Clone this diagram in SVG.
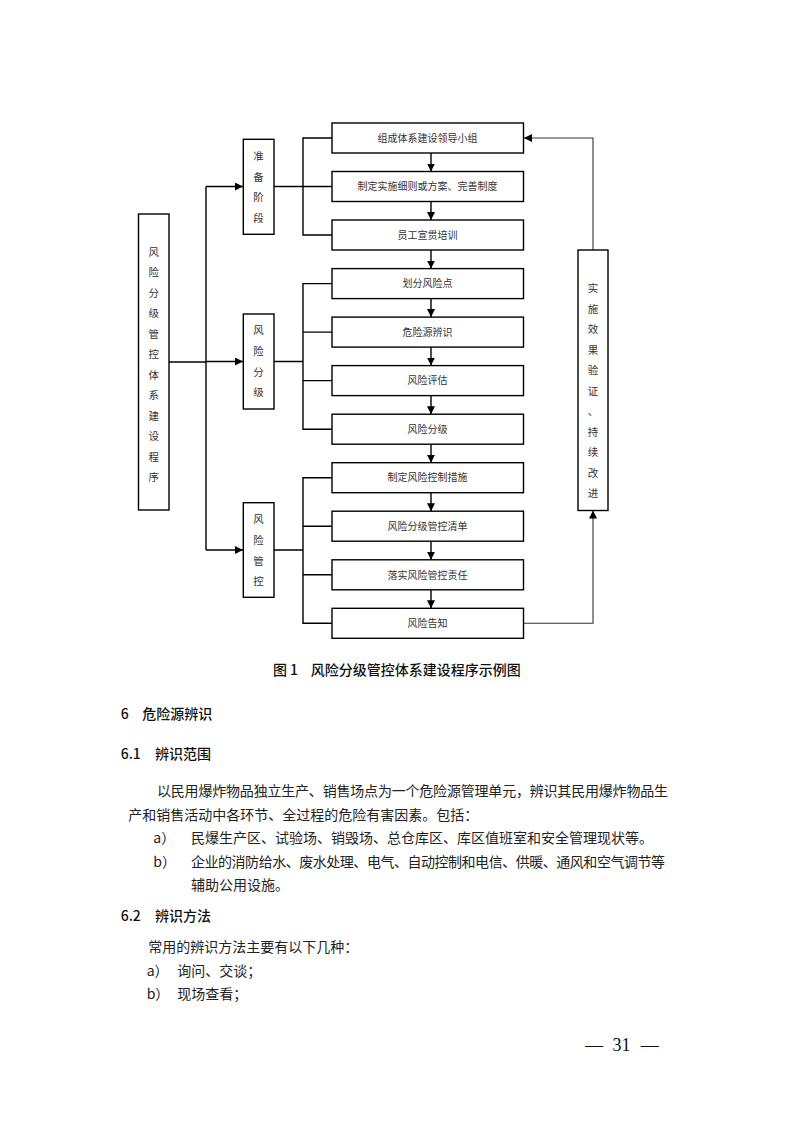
<svg xmlns="http://www.w3.org/2000/svg" width="793" height="1122" viewBox="0 0 793 1122">
<defs>
<style>
.box{fill:#fff;stroke:#000;stroke-width:1.4}
.ln{fill:none;stroke:#000;stroke-width:1.4}
.lp{fill:none;stroke:#333;stroke-width:1.1}
.bt{font-family:"Noto Sans CJK SC","Noto Sans CJK JP",sans-serif;font-size:10px;fill:#333;text-anchor:middle}
.vt{font-family:"Noto Sans CJK SC","Noto Sans CJK JP",sans-serif;font-size:10.5px;fill:#333;text-anchor:middle}
.hd{font-family:"Noto Sans CJK SC","Noto Sans CJK JP",sans-serif;font-size:14px;font-weight:500;fill:#111}
.tx{font-family:"Noto Sans CJK SC","Noto Sans CJK JP",sans-serif;font-size:14px;fill:#222}
.pg{font-family:"Liberation Serif",serif;font-size:18px;fill:#111}
</style>
<marker id="ah" markerUnits="userSpaceOnUse" markerWidth="8" markerHeight="8" refX="8" refY="4" orient="auto">
<path d="M0,0 L8,4 L0,8 z" fill="#000"/>
</marker>
</defs>

<g id="connectors">
<path class="ln" d="M169,362 H206"/>
<path class="ln" d="M206,186.5 V550"/>
<path class="ln" d="M206,186.5 H243" marker-end="url(#ah)"/>
<path class="ln" d="M206,361.5 H243" marker-end="url(#ah)"/>
<path class="ln" d="M206,550 H243" marker-end="url(#ah)"/>
<path class="ln" d="M274,186.5 H303 M332,138 H303 V235 H332 M303,186.5 H332"/>
<path class="ln" d="M274,361.5 H303 M332,283.6 H303 V429.2 H332 M303,332.1 H332 M303,380.6 H332"/>
<path class="ln" d="M274,550 H303 M332,477.7 H303 V623.3 H332 M303,526.2 H332 M303,574.8 H332"/>
<path class="ln" d="M431,153 V171.5" marker-end="url(#ah)"/>
<path class="ln" d="M431,201.5 V220" marker-end="url(#ah)"/>
<path class="ln" d="M431,250 V268.6" marker-end="url(#ah)"/>
<path class="ln" d="M431,298.6 V317.1" marker-end="url(#ah)"/>
<path class="ln" d="M431,347.1 V365.6" marker-end="url(#ah)"/>
<path class="ln" d="M431,395.6 V414.2" marker-end="url(#ah)"/>
<path class="ln" d="M431,444.2 V462.7" marker-end="url(#ah)"/>
<path class="ln" d="M431,492.7 V511.2" marker-end="url(#ah)"/>
<path class="ln" d="M431,541.2 V559.8" marker-end="url(#ah)"/>
<path class="ln" d="M431,589.8 V608.3" marker-end="url(#ah)"/>
<path class="lp" d="M524,623.3 H593 V510.5" marker-end="url(#ah)"/>
<path class="lp" d="M593,250 V138 H524" marker-end="url(#ah)"/>
</g>

<g id="node-main">
<rect class="box" x="138.5" y="214" width="30.5" height="296"/>
<text class="vt"><tspan x="153.7" y="255.5">风</tspan><tspan x="153.7" dy="20.5">险</tspan><tspan x="153.7" dy="20.5">分</tspan><tspan x="153.7" dy="20.5">级</tspan><tspan x="153.7" dy="20.5">管</tspan><tspan x="153.7" dy="20.5">控</tspan><tspan x="153.7" dy="20.5">体</tspan><tspan x="153.7" dy="20.5">系</tspan><tspan x="153.7" dy="20.5">建</tspan><tspan x="153.7" dy="20.5">设</tspan><tspan x="153.7" dy="20.5">程</tspan><tspan x="153.7" dy="20.5">序</tspan></text>
</g>

<g id="node-stage1">
<rect class="box" x="243.3" y="139.3" width="30.7" height="95"/>
<text class="vt"><tspan x="258.6" y="160">准</tspan><tspan x="258.6" dy="20.7">备</tspan><tspan x="258.6" dy="20.7">阶</tspan><tspan x="258.6" dy="20.7">段</tspan></text>
</g>
<g id="node-stage2">
<rect class="box" x="243.3" y="314" width="30.7" height="95"/>
<text class="vt"><tspan x="258.6" y="334">风</tspan><tspan x="258.6" dy="20.8">险</tspan><tspan x="258.6" dy="20.8">分</tspan><tspan x="258.6" dy="20.8">级</tspan></text>
</g>
<g id="node-stage3">
<rect class="box" x="243.3" y="502.7" width="30.7" height="94.6"/>
<text class="vt"><tspan x="258.6" y="523">风</tspan><tspan x="258.6" dy="20.8">险</tspan><tspan x="258.6" dy="20.8">管</tspan><tspan x="258.6" dy="20.8">控</tspan></text>
</g>

<g id="node-s1"><rect class="box" x="332" y="123" width="191.5" height="30"/><text class="bt" x="427.5" y="141.7">组成体系建设领导小组</text></g>
<g id="node-s2"><rect class="box" x="332" y="171.5" width="191.5" height="30"/><text class="bt" x="427.5" y="190.2">制定实施细则或方案、完善制度</text></g>
<g id="node-s3"><rect class="box" x="332" y="220" width="191.5" height="30"/><text class="bt" x="427.5" y="238.7">员工宣贯培训</text></g>
<g id="node-s4"><rect class="box" x="332" y="268.6" width="191.5" height="30"/><text class="bt" x="427.5" y="287.3">划分风险点</text></g>
<g id="node-s5"><rect class="box" x="332" y="317.1" width="191.5" height="30"/><text class="bt" x="427.5" y="335.8">危险源辨识</text></g>
<g id="node-s6"><rect class="box" x="332" y="365.6" width="191.5" height="30"/><text class="bt" x="427.5" y="384.3">风险评估</text></g>
<g id="node-s7"><rect class="box" x="332" y="414.2" width="191.5" height="30"/><text class="bt" x="427.5" y="432.9">风险分级</text></g>
<g id="node-s8"><rect class="box" x="332" y="462.7" width="191.5" height="30"/><text class="bt" x="427.5" y="481.4">制定风险控制措施</text></g>
<g id="node-s9"><rect class="box" x="332" y="511.2" width="191.5" height="30"/><text class="bt" x="427.5" y="529.9">风险分级管控清单</text></g>
<g id="node-s10"><rect class="box" x="332" y="559.8" width="191.5" height="30"/><text class="bt" x="427.5" y="578.5">落实风险管控责任</text></g>
<g id="node-s11"><rect class="box" x="332" y="608.3" width="191.5" height="30"/><text class="bt" x="427.5" y="627">风险告知</text></g>

<g id="node-feedback">
<rect class="box" x="578" y="250" width="30" height="260.5"/>
<text class="vt"><tspan x="593" y="292">实</tspan><tspan x="593" dy="20.5">施</tspan><tspan x="593" dy="20.5">效</tspan><tspan x="593" dy="20.5">果</tspan><tspan x="593" dy="20.5">验</tspan><tspan x="593" dy="20.5">证</tspan><tspan x="593" dy="20.5">、</tspan><tspan x="593" dy="20.5">持</tspan><tspan x="593" dy="20.5">续</tspan><tspan x="593" dy="20.5">改</tspan><tspan x="593" dy="20.5">进</tspan></text>
</g>

<g id="caption">
<text class="hd" y="675.2"><tspan x="273">图</tspan><tspan x="290">1</tspan><tspan x="310.7">风险分级管控体系建设程序示例图</tspan></text>
</g>

<g id="body">
<text class="hd" y="719"><tspan x="120.7">6</tspan><tspan x="142.3">危险源辨识</tspan></text>
<text class="hd" y="759"><tspan x="120.7">6.1</tspan><tspan x="155">辨识范围</tspan></text>
<text class="tx" x="157" y="796" textLength="511" lengthAdjust="spacing">以民用爆炸物品独立生产、销售场点为一个危险源管理单元，辨识其民用爆炸物品生</text>
<text class="tx" x="128.3" y="819.5">产和销售活动中各环节、全过程的危险有害因素。包括：</text>
<text class="tx" y="843"><tspan x="153.3">a）</tspan><tspan x="191">民爆生产区、试验场、销毁场、总仓库区、库区值班室和安全管理现状等。</tspan></text>
<text class="tx" y="866.5"><tspan x="153.3">b）</tspan><tspan x="191" textLength="474" lengthAdjust="spacing">企业的消防给水、废水处理、电气、自动控制和电信、供暖、通风和空气调节等</tspan></text>
<text class="tx" x="191" y="890">辅助公用设施。</text>
<text class="hd" y="921"><tspan x="120.7">6.2</tspan><tspan x="155">辨识方法</tspan></text>
<text class="tx" x="148.3" y="952">常用的辨识方法主要有以下几种：</text>
<text class="tx" y="975.5"><tspan x="146.7">a）</tspan><tspan x="177.3">询问、交谈；</tspan></text>
<text class="tx" y="999"><tspan x="146.7">b）</tspan><tspan x="177.3">现场查看；</tspan></text>
<text class="pg" y="1050.5"><tspan x="585">—</tspan><tspan x="612.5">31</tspan><tspan x="640.7">—</tspan></text>
</g>
</svg>
